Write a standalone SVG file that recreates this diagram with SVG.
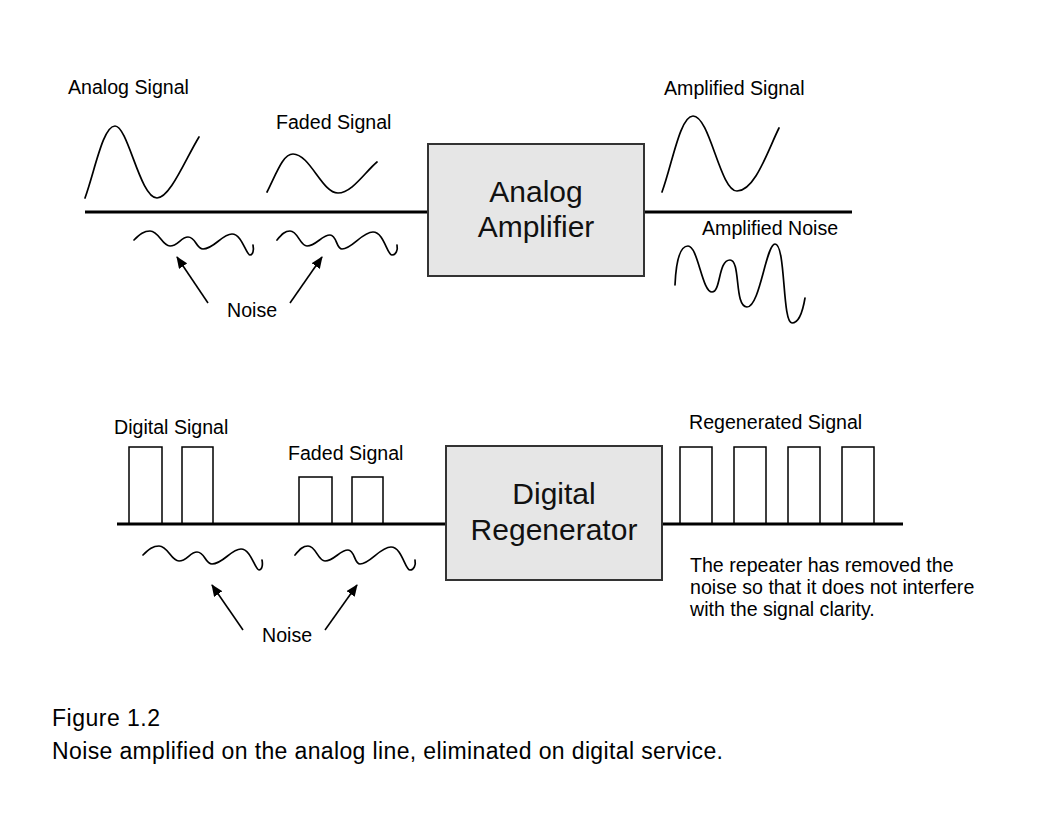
<svg xmlns="http://www.w3.org/2000/svg" width="1056" height="816" viewBox="0 0 1056 816">
<defs>
<marker id="ah" viewBox="0 0 12 10" refX="11" refY="5" markerWidth="12" markerHeight="10" markerUnits="userSpaceOnUse" orient="auto">
<path d="M0,0 L12,5 L0,10 Z" fill="#000"/>
</marker>
<path id="noiseA" d="M134,240 C140,234 144,231 150,231 C159,231 162,246 170,246 C178,246 181,237 188,237 C196,237 196,249 203,249 C214,249 222,234 232,234 C242,234 246,255 250,255 C253,255 254,250 253,245"/>
<path id="noiseB" d="M277,240 C282,234 285,231 290,231 C298,231 300,246 307,246 C316,246 322,235 330,235 C337,235 336,249 342,249 C352,249 362,232 373,232 C384,232 387,255 392,255 C396,255 398,250 397,245"/>
<style>
.lbl{font-family:"Liberation Sans",Arial,sans-serif;font-size:19.6px;fill:#000}
.big{font-family:"Liberation Sans",Arial,sans-serif;font-size:30px;fill:#111;text-anchor:middle}
.cap{font-family:"Liberation Sans",Arial,sans-serif;font-size:23px;fill:#000}
.wave{fill:none;stroke:#000;stroke-width:1.7;stroke-linecap:round;stroke-linejoin:round}
.line{fill:none;stroke:#000;stroke-width:3}
.pulse{fill:none;stroke:#000;stroke-width:1.5}
.box{fill:#e6e6e6;stroke:#333;stroke-width:2}
.arr{fill:none;stroke:#000;stroke-width:1.6;marker-end:url(#ah)}
</style>
</defs>
<rect width="1056" height="816" fill="#fff"/>

<g id="connectors">
<line class="line" x1="85" y1="212" x2="428" y2="212"/>
<line class="line" x1="644" y1="212" x2="852" y2="212"/>
<line class="line" x1="117" y1="524" x2="446" y2="524"/>
<line class="line" x1="662" y1="524" x2="903" y2="524"/>
<line class="arr" x1="208" y1="303" x2="177" y2="257"/>
<line class="arr" x1="290" y1="303" x2="322" y2="257"/>
<line class="arr" x1="243" y1="630" x2="212" y2="585"/>
<line class="arr" x1="325" y1="630" x2="357" y2="585"/>
</g>

<g id="analog-amplifier">
<rect class="box" x="428" y="144" width="216" height="132"/>
<text class="big" x="536" y="202">Analog</text>
<text class="big" x="536" y="237">Amplifier</text>
</g>

<g id="digital-regenerator">
<rect class="box" x="446" y="446" width="216" height="134"/>
<text class="big" x="554" y="504">Digital</text>
<text class="big" x="554" y="540">Regenerator</text>
</g>

<g id="analog-signal">
<text class="lbl" x="68" y="94">Analog Signal</text>
<path class="wave" d="M85,198 C95,170 103,126 115,126 C128,126 140,198 157,198 C170,198 185,160 199,137"/>
</g>

<g id="faded-signal-analog">
<text class="lbl" x="276" y="129">Faded Signal</text>
<path class="wave" d="M267,192 C277,172 283,154 293,154 C310,154 322,193 338,193 C352,193 365,172 377,162"/>
</g>

<g id="amplified-signal">
<text class="lbl" x="664" y="95">Amplified Signal</text>
<path class="wave" d="M662,192 C672,165 680,116 693,116 C710,116 720,191 737,191 C755,191 768,150 779,128"/>
</g>

<g id="amplified-noise">
<text class="lbl" x="702" y="235">Amplified Noise</text>
<path class="wave" d="M675,285 C676,262 680,246 688,246 C698,246 702,292 712,292 C721,292 718,260 730,260 C741,260 734,307 747,307 C760,307 766,244 775,244 C786,244 782,323 792,323 C799,323 803,310 805,298"/>
</g>

<g id="noise-analog">
<use href="#noiseA" class="wave"/>
<use href="#noiseB" class="wave"/>
<text class="lbl" x="227" y="317">Noise</text>
</g>

<g id="digital-signal">
<text class="lbl" x="114" y="434">Digital Signal</text>
<path class="pulse" d="M129,524 V447 H162 V524 M182,524 V447 H213 V524"/>
</g>

<g id="faded-signal-digital">
<text class="lbl" x="288" y="460">Faded Signal</text>
<path class="pulse" d="M299,524 V477 H332 V524 M352,524 V477 H383 V524"/>
</g>

<g id="regenerated-signal">
<text class="lbl" x="689" y="429">Regenerated Signal</text>
<path class="pulse" d="M680,524 V447 H712 V524 M734,524 V447 H766 V524 M788,524 V447 H820 V524 M842,524 V447 H874 V524"/>
</g>

<g id="noise-digital">
<use href="#noiseA" class="wave" transform="translate(9,315)"/>
<use href="#noiseB" class="wave" transform="translate(18,315)"/>
<text class="lbl" x="262" y="642">Noise</text>
</g>

<g id="note">
<text class="lbl" x="690" y="572">The repeater has removed the</text>
<text class="lbl" x="690" y="594">noise so that it does not interfere</text>
<text class="lbl" x="690" y="616">with the signal clarity.</text>
</g>

<g id="caption">
<text class="cap" x="52" y="726" textLength="108">Figure 1.2</text>
<text class="cap" x="52" y="759" textLength="671">Noise amplified on the analog line, eliminated on digital service.</text>
</g>
</svg>
